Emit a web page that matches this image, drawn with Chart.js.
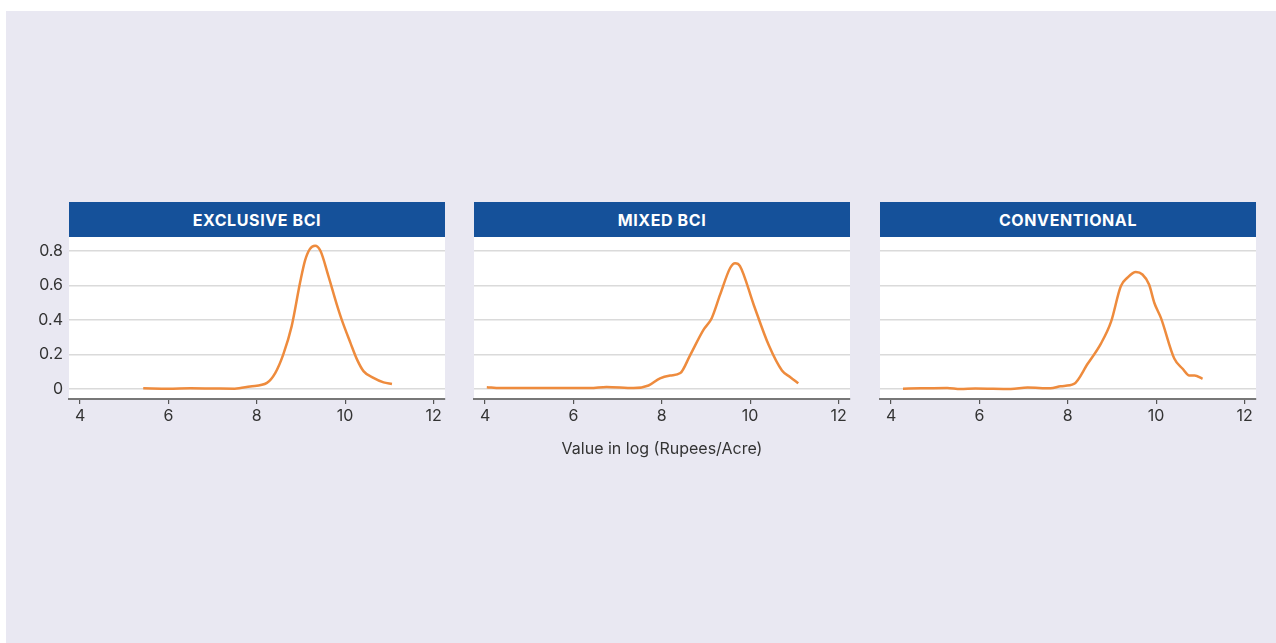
<!DOCTYPE html>
<html>
<head>
<meta charset="utf-8">
<script src="https://cdn.jsdelivr.net/npm/chart.js@4/dist/chart.umd.min.js"></script>
<style>
  html, body { margin: 0; padding: 0; background: #ffffff; }
  body { width: 1276px; height: 643px; position: relative; overflow: hidden; font-family: 'Inter', sans-serif; }
  .bg { position: absolute; left: 6px; top: 11px; width: 1270px; height: 632px; background: #e9e8f2; }
  .head {
    position: absolute; top: 202px; height: 35px; width: 376px;
    background: #15519a; color: #fff; font: 700 16px 'Inter', sans-serif;
    display: flex; align-items: center; justify-content: center; letter-spacing: 0.6px;
  }
  canvas { position: absolute; top: 237px; }
</style>
</head>
<body>
<div class="bg"></div>
<div class="head" style="left:69px">EXCLUSIVE BCI</div>
<div class="head" style="left:474px">MIXED BCI</div>
<div class="head" style="left:880px">CONVENTIONAL</div>
<canvas id="c1" width="450" height="230" style="left:0;width:450px;height:230px"></canvas>
<canvas id="c2" width="386" height="230" style="left:469px;width:386px;height:230px"></canvas>
<canvas id="c3" width="386" height="230" style="left:875px;width:386px;height:230px"></canvas>
<script>
/* ── data ── */
const panelTitles = ['EXCLUSIVE BCI', 'MIXED BCI', 'CONVENTIONAL'];
const xTicks = [4, 6, 8, 10, 12];
const yTicks = [0, 0.2, 0.4, 0.6, 0.8];
const xAxisTitle = 'Value in log (Rupees/Acre)';

const exclusiveX = [5.43, 6.0, 6.5, 7.0, 7.5, 7.85, 8.23, 8.42, 8.6, 8.79, 8.98, 9.09, 9.2, 9.32, 9.44, 9.62, 9.81, 9.92, 10.12, 10.27, 10.42, 10.64, 10.87, 11.06];
const exclusiveY = [0.004, 0.002, 0.004, 0.003, 0.002, 0.015, 0.035, 0.093, 0.2, 0.364, 0.616, 0.742, 0.81, 0.829, 0.8, 0.655, 0.49, 0.403, 0.267, 0.17, 0.102, 0.064, 0.038, 0.029];

const mixedX = [4.04, 4.34, 5.0, 5.7, 6.38, 6.75, 7.36, 7.7, 7.96, 8.19, 8.42, 8.64, 8.94, 9.13, 9.32, 9.55, 9.66, 9.77, 10.08, 10.42, 10.72, 10.91, 11.09];
const mixedY = [0.01, 0.005, 0.005, 0.005, 0.005, 0.012, 0.005, 0.02, 0.062, 0.078, 0.092, 0.195, 0.341, 0.41, 0.546, 0.702, 0.728, 0.712, 0.488, 0.254, 0.107, 0.068, 0.033];

const convX = [4.27, 4.67, 5.27, 5.57, 5.91, 6.71, 7.09, 7.61, 7.84, 8.14, 8.45, 8.75, 8.98, 9.2, 9.35, 9.54, 9.69, 9.84, 9.96, 10.11, 10.41, 10.6, 10.75, 10.87, 11.05];
const convY = [0.002, 0.004, 0.006, 0.0, 0.003, 0.0, 0.008, 0.004, 0.016, 0.029, 0.146, 0.263, 0.39, 0.595, 0.644, 0.677, 0.663, 0.605, 0.498, 0.41, 0.176, 0.117, 0.078, 0.078, 0.059];

const LINE = '#ee8b3d';
const TEXT = '#333333';

// white plot background
const plotBg = {
  id: 'plotBg',
  beforeDraw(chart) {
    const { ctx, chartArea: a } = chart;
    ctx.save();
    ctx.fillStyle = '#ffffff';
    ctx.fillRect(a.left, a.top, a.right - a.left, a.bottom - a.top);
    ctx.restore();
  }
};

function panel(canvasId, xs, ys, opts) {
  const pts = xs.map((x, i) => ({ x, y: ys[i] }));
  return new Chart(document.getElementById(canvasId), {
    type: 'line',
    data: {
      datasets: [{
        data: pts,
        borderColor: LINE,
        borderWidth: 2.5,
        pointRadius: 0,
        cubicInterpolationMode: 'monotone',
        fill: false,
      }]
    },
    options: {
      responsive: false,
      animation: false,
      layout: { padding: { left: opts.padLeft, right: 5, top: 0, bottom: 0 } },
      plugins: { legend: { display: false }, tooltip: { enabled: false } },
      scales: {
        x: {
          type: 'linear',
          min: 3.75, max: 12.26,
          afterBuildTicks: s => { s.ticks = xTicks.map(v => ({ value: v })); },
          afterFit: s => { s.height = 68; s.paddingLeft = 0; s.paddingRight = 0; },
          grid: { drawOnChartArea: false, drawTicks: true, tickLength: 5, color: '#555', lineWidth: 1.2 },
          border: { display: true, color: '#777', width: 2 },
          ticks: { color: TEXT, font: { family: 'Inter', size: 16 }, padding: 3, maxRotation: 0 },
          title: {
            display: !!opts.showTitle, text: xAxisTitle, color: TEXT,
            font: { family: 'Inter', size: 16 }, padding: { top: 0, bottom: 8.5 }
          }
        },
        y: {
          min: -0.058, max: 0.88,
          afterBuildTicks: s => { s.ticks = yTicks.map(v => ({ value: v })); },
          afterFit: s => { s.width = opts.yWidth; s.paddingTop = 0; s.paddingBottom = 0; },
          grid: { color: '#dadada', lineWidth: 1.5, drawTicks: false },
          border: { display: false },
          ticks: {
            display: !!opts.showY, color: TEXT, padding: 6,
            font: { family: 'Inter', size: 16 },
            callback: v => (v === 0 ? '0' : v.toFixed(1))
          }
        }
      }
    },
    plugins: [plotBg]
  });
}

panel('c1', exclusiveX, exclusiveY, { padLeft: 0, yWidth: 69, showY: true });
panel('c2', mixedX, mixedY, { padLeft: 5, yWidth: 0, showTitle: true });
panel('c3', convX, convY, { padLeft: 5, yWidth: 0 });
</script>
</body>
</html>
